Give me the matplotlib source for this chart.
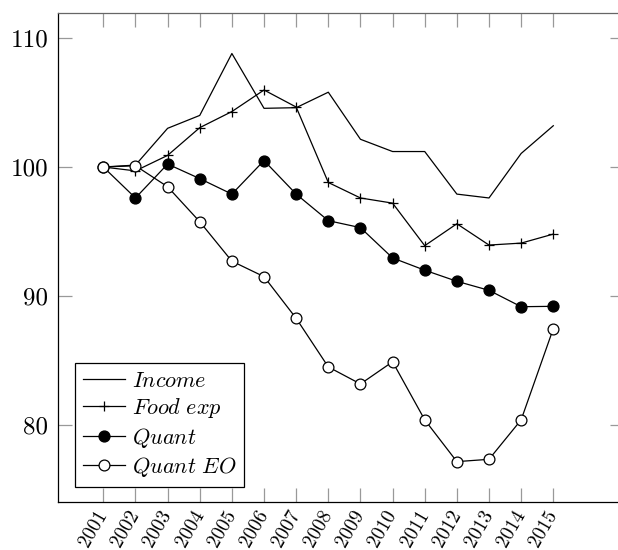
import matplotlib
matplotlib.use("Agg")
import matplotlib.pyplot as plt

plt.rcParams["font.family"] = "cmr10"
plt.rcParams["mathtext.fontset"] = "cm"
plt.rcParams["axes.formatter.use_mathtext"] = True

years = list(range(2001, 2016))
income = [100, 100.15, 103.0, 104.0, 108.8, 104.55, 104.6, 105.8, 102.15, 101.2,
          101.2, 97.9, 97.6, 101.05, 103.2]
food_exp = [100, 99.7, 100.9, 103.05, 104.3, 105.97, 104.65, 98.8, 97.6, 97.2,
            93.9, 95.6, 93.95, 94.1, 94.8]
quant = [100, 97.6, 100.23, 99.1, 97.9, 100.5, 97.9, 95.84, 95.3, 92.95,
         92.0, 91.14, 90.44, 89.17, 89.2]
quant_eo = [100, 100.1, 98.47, 95.76, 92.7, 91.5, 88.27, 84.5, 83.18, 84.9,
            80.4, 77.16, 77.34, 80.4, 87.47]
y_ticks = [80, 90, 100, 110]

W, H = 618, 550
fig = plt.figure(figsize=(W / 100, H / 100), dpi=100)
ax = fig.add_axes([58 / W, (H - 502) / H, (624 - 58) / W, (502 - 13) / H])

lw = 0.9
ax.plot(years, income, color="black", lw=lw, label=r"$Income$")
ax.plot(years, food_exp, color="black", lw=lw, marker="+", ms=7, mew=0.9,
        label=r"$Food\ exp$")
ax.plot(years, quant, color="black", lw=lw, marker="o", ms=7.8,
        label=r"$Quant$")
ax.plot(years, quant_eo, color="black", lw=lw, marker="o", ms=7.8,
        mfc="white", mew=0.9, label=r"$Quant\ EO$")

ax.set_xlim(1999.59, 2017.2)
ax.set_ylim(74.03, 111.94)
ax.set_xticks(years)
ax.set_xticklabels([str(y) for y in years], rotation=60, ha="right",
                   va="center", rotation_mode="anchor", fontsize=14)
ax.set_yticks(y_ticks)
ax.set_yticklabels([str(v) for v in y_ticks], fontsize=18)
ax.tick_params(direction="in", length=10, width=0.9, color="#999999",
               top=True, right=True)
ax.tick_params(axis="y", pad=7)
ax.tick_params(axis="x", pad=7)
for s in ax.spines.values():
    s.set_linewidth(0.9)
ax.spines["top"].set_color("#666666")

leg = ax.legend(loc="lower left", bbox_to_anchor=(17 / 566, 15 / 489),
                borderaxespad=0, fontsize=16, handlelength=1.9,
                handletextpad=0.3, labelspacing=0.25, fancybox=False,
                framealpha=1, borderpad=0.35)
leg.get_frame().set_edgecolor("black")
leg.get_frame().set_linewidth(0.9)

fig.savefig("out.png", dpi=100)
